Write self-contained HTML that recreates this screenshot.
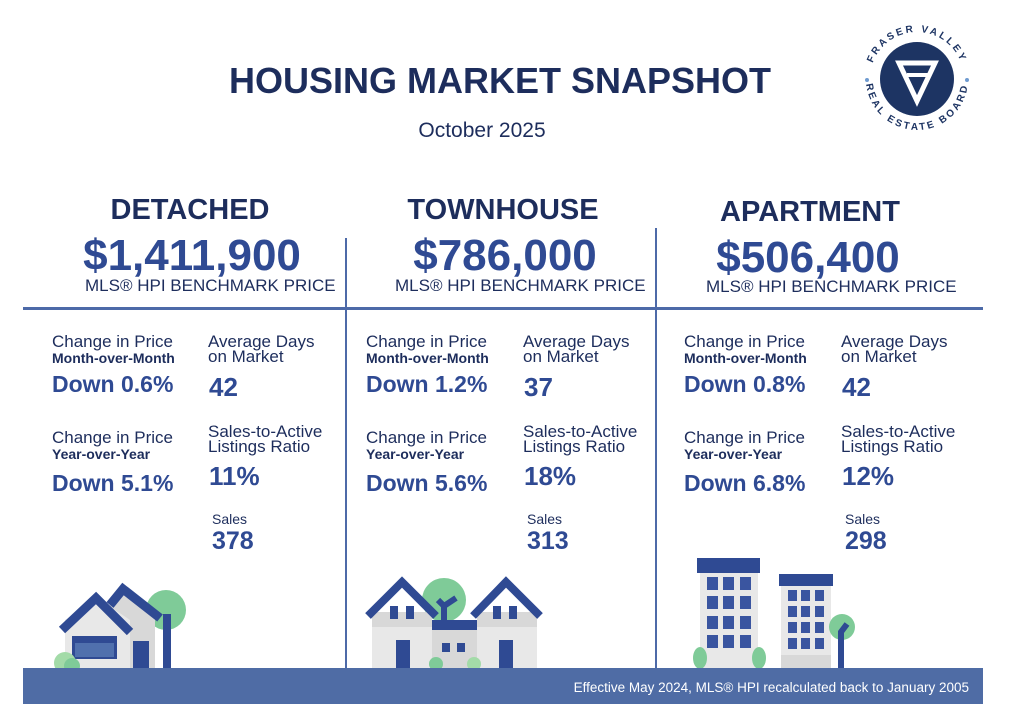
<!DOCTYPE html>
<html><head><meta charset="utf-8"><style>
*{margin:0;padding:0;box-sizing:border-box}
body{width:1023px;height:723px;background:#fff;position:relative;overflow:hidden;font-family:"Liberation Sans",Arial,sans-serif;color:#2f4a93}
.a{position:absolute;white-space:nowrap;line-height:1}
.c{transform:translateX(-50%)}
.t{font-weight:bold;color:#1d2d5c}
.pr{font-weight:bold;font-size:44px;color:#2f4a93}
.mls{font-size:17px;color:#1d2d5c}
.l{font-size:17px;color:#1d2d5c}
.s{font-size:14px;font-weight:bold;color:#1d2d5c}
.d{font-size:23px;font-weight:bold}
.n{font-size:26px;font-weight:bold}
.ln{position:absolute;background:#4d6aa8}
</style></head><body>
<div class="a c t" style="left:500px;top:63px;font-size:36px">HOUSING MARKET SNAPSHOT</div>
<div class="a c" style="left:482px;top:120px;font-size:21px;color:#1d2d5c">October 2025</div>

<div class="a c t" style="left:190px;top:196px;font-size:29px">DETACHED</div>
<div class="a c t" style="left:503px;top:196px;font-size:29px">TOWNHOUSE</div>
<div class="a c t" style="left:810px;top:198px;font-size:29px">APARTMENT</div>

<div class="a c pr" style="left:192px;top:234px">$1,411,900</div>
<div class="a c pr" style="left:505px;top:234px">$786,000</div>
<div class="a c pr" style="left:808px;top:236px">$506,400</div>
<div class="a mls" style="left:85px;top:277px">MLS® HPI BENCHMARK PRICE</div>
<div class="a mls" style="left:395px;top:277px">MLS® HPI BENCHMARK PRICE</div>
<div class="a mls" style="left:706px;top:278px">MLS® HPI BENCHMARK PRICE</div>

<div class="ln" style="left:23px;top:307px;width:960px;height:3px"></div>
<div class="ln" style="left:345px;top:238px;width:2px;height:430px"></div>
<div class="ln" style="left:655px;top:228px;width:2px;height:440px"></div>

<!-- column 1 -->
<div class="a l" style="left:52px;top:333px">Change in Price</div>
<div class="a s" style="left:52px;top:351px">Month-over-Month</div>
<div class="a d" style="left:52px;top:373px">Down 0.6%</div>
<div class="a l" style="left:208px;top:333px">Average Days</div>
<div class="a l" style="left:208px;top:348px">on Market</div>
<div class="a n" style="left:209px;top:374px">42</div>
<div class="a l" style="left:52px;top:429px">Change in Price</div>
<div class="a s" style="left:52px;top:447px">Year-over-Year</div>
<div class="a d" style="left:52px;top:472px">Down 5.1%</div>
<div class="a l" style="left:208px;top:423px">Sales-to-Active</div>
<div class="a l" style="left:208px;top:438px">Listings Ratio</div>
<div class="a n" style="left:209px;top:463px">11%</div>
<div class="a l" style="left:212px;top:512px;font-size:14px">Sales</div>
<div class="a n" style="left:212px;top:529px;font-size:25px">378</div>

<!-- column 2 -->
<div class="a l" style="left:366px;top:333px">Change in Price</div>
<div class="a s" style="left:366px;top:351px">Month-over-Month</div>
<div class="a d" style="left:366px;top:373px">Down 1.2%</div>
<div class="a l" style="left:523px;top:333px">Average Days</div>
<div class="a l" style="left:523px;top:348px">on Market</div>
<div class="a n" style="left:524px;top:374px">37</div>
<div class="a l" style="left:366px;top:429px">Change in Price</div>
<div class="a s" style="left:366px;top:447px">Year-over-Year</div>
<div class="a d" style="left:366px;top:472px">Down 5.6%</div>
<div class="a l" style="left:523px;top:423px">Sales-to-Active</div>
<div class="a l" style="left:523px;top:438px">Listings Ratio</div>
<div class="a n" style="left:524px;top:463px">18%</div>
<div class="a l" style="left:527px;top:512px;font-size:14px">Sales</div>
<div class="a n" style="left:527px;top:529px;font-size:25px">313</div>

<!-- column 3 -->
<div class="a l" style="left:684px;top:333px">Change in Price</div>
<div class="a s" style="left:684px;top:351px">Month-over-Month</div>
<div class="a d" style="left:684px;top:373px">Down 0.8%</div>
<div class="a l" style="left:841px;top:333px">Average Days</div>
<div class="a l" style="left:841px;top:348px">on Market</div>
<div class="a n" style="left:842px;top:374px">42</div>
<div class="a l" style="left:684px;top:429px">Change in Price</div>
<div class="a s" style="left:684px;top:447px">Year-over-Year</div>
<div class="a d" style="left:684px;top:472px">Down 6.8%</div>
<div class="a l" style="left:841px;top:423px">Sales-to-Active</div>
<div class="a l" style="left:841px;top:438px">Listings Ratio</div>
<div class="a n" style="left:842px;top:463px">12%</div>
<div class="a l" style="left:845px;top:512px;font-size:14px">Sales</div>
<div class="a n" style="left:845px;top:529px;font-size:25px">298</div>

<svg style="position:absolute;left:0;top:0" width="1023" height="723">
 <!-- detached -->
 <circle cx="166" cy="610" r="20" fill="#7fcb98"/>
 <polygon points="110,668 155,668 155,610 120,590 110,600" fill="#d8d8d8"/>
 <polygon points="65,668 130,668 130,620 97,598 65,620" fill="#e8e8e8"/>
 <polyline points="62,630 96,598 130,632" fill="none" stroke="#2f4a93" stroke-width="9"/>
 <polyline points="110,605 123,589 160,618" fill="none" stroke="#2f4a93" stroke-width="9"/>
 <rect x="72" y="636" width="45" height="23" fill="#2f4a93"/>
 <rect x="75" y="643" width="39" height="14" fill="#5070ad"/>
 <rect x="133" y="641" width="16" height="27" fill="#2f4a93"/>
 <rect x="163" y="614" width="8" height="54" fill="#2f4a93"/>
 <circle cx="65" cy="663" r="11" fill="#a3dba8"/>
 <circle cx="72" cy="666" r="8" fill="#7fcb98"/>
 <!-- townhouse -->
 <circle cx="444" cy="600" r="22" fill="#7fcb98"/>
 <rect x="372" y="612" width="60" height="56" fill="#e8e8e8"/>
 <rect x="372" y="612" width="60" height="15" fill="#d8d8d8"/>
 <rect x="477" y="612" width="60" height="56" fill="#e8e8e8"/>
 <rect x="477" y="612" width="60" height="15" fill="#d8d8d8"/>
 <rect x="432" y="628" width="45" height="40" fill="#d8d8d8"/>
 <rect x="432" y="620" width="45" height="10" fill="#2f4a93"/>
 <path d="M444 622 L444 606 L456 598 M444 606 L438 600" stroke="#2f4a93" stroke-width="6" fill="none"/>
 <polyline points="368,616 402,582 436,616" fill="none" stroke="#2f4a93" stroke-width="8"/>
 <polyline points="473,616 506,582 540,616" fill="none" stroke="#2f4a93" stroke-width="8"/>
 <rect x="390" y="606" width="8" height="13" fill="#2f4a93"/><rect x="406" y="606" width="8" height="13" fill="#2f4a93"/>
 <rect x="493" y="606" width="8" height="13" fill="#2f4a93"/><rect x="509" y="606" width="8" height="13" fill="#2f4a93"/>
 <rect x="396" y="640" width="14" height="28" fill="#2f4a93"/><rect x="499" y="640" width="14" height="28" fill="#2f4a93"/>
 <rect x="442" y="643" width="8" height="9" fill="#2f4a93"/><rect x="457" y="643" width="8" height="9" fill="#2f4a93"/>
 <circle cx="436" cy="664" r="7" fill="#7fcb98"/><circle cx="474" cy="664" r="7" fill="#a3dba8"/>
 <!-- apartment -->
 <rect x="700" y="572" width="58" height="96" fill="#e8e8e8"/>
 <rect x="697" y="558" width="63" height="15" fill="#2f4a93"/>
 <g fill="#3a55a0">
  <rect x="707" y="577" width="11" height="13"/><rect x="723" y="577" width="11" height="13"/><rect x="740" y="577" width="11" height="13"/>
  <rect x="707" y="596" width="11" height="13"/><rect x="723" y="596" width="11" height="13"/><rect x="740" y="596" width="11" height="13"/>
  <rect x="707" y="616" width="11" height="13"/><rect x="723" y="616" width="11" height="13"/><rect x="740" y="616" width="11" height="13"/>
  <rect x="707" y="635" width="11" height="13"/><rect x="723" y="635" width="11" height="13"/><rect x="740" y="635" width="11" height="13"/>
 </g>
 <rect x="781" y="585" width="50" height="83" fill="#e8e8e8"/>
 <rect x="781" y="655" width="50" height="13" fill="#d8d8d8"/>
 <rect x="779" y="574" width="54" height="12" fill="#2f4a93"/>
 <g fill="#3a55a0">
  <rect x="788" y="590" width="9" height="11"/><rect x="801" y="590" width="9" height="11"/><rect x="815" y="590" width="9" height="11"/>
  <rect x="788" y="606" width="9" height="11"/><rect x="801" y="606" width="9" height="11"/><rect x="815" y="606" width="9" height="11"/>
  <rect x="788" y="622" width="9" height="11"/><rect x="801" y="622" width="9" height="11"/><rect x="815" y="622" width="9" height="11"/>
  <rect x="788" y="638" width="9" height="11"/><rect x="801" y="638" width="9" height="11"/><rect x="815" y="638" width="9" height="11"/>
 </g>
 <circle cx="842" cy="627" r="13" fill="#7fcb98"/>
 <path d="M841 668 L841 632 L847 624" stroke="#2f4a93" stroke-width="6" fill="none"/>
 <ellipse cx="700" cy="658" rx="7" ry="11" fill="#7fcb98"/>
 <ellipse cx="759" cy="658" rx="7" ry="11" fill="#7fcb98"/>
 <!-- logo -->
 <circle cx="917" cy="79" r="37" fill="#1d3463"/>
 <path d="M899 63 L935 63 L917 101 Z" fill="none" stroke="#fff" stroke-width="5"/>
 <path d="M907 75 L928 75" stroke="#fff" stroke-width="4"/>
 <defs>
  <path id="arcT" d="M870 79 A47 47 0 0 1 964 79"/>
  <path id="arcB" d="M866 79 A51 51 0 0 0 968 79"/>
 </defs>
 <text font-family="Liberation Sans" font-weight="bold" font-size="10" fill="#1d3463" letter-spacing="2.5" text-anchor="middle"><textPath href="#arcT" startOffset="50%">FRASER VALLEY</textPath></text>
 <text font-family="Liberation Sans" font-weight="bold" font-size="10" fill="#1d3463" letter-spacing="2.5" text-anchor="middle"><textPath href="#arcB" startOffset="50%">REAL ESTATE BOARD</textPath></text>
 <circle cx="867" cy="80" r="2" fill="#6f9bd0"/><circle cx="967" cy="80" r="2" fill="#6f9bd0"/>
</svg>

<div style="position:absolute;left:23px;top:668px;width:960px;height:36px;background:#4f6ca5"></div>
<div class="a" style="right:54px;top:681px;font-size:13.5px;color:#fff">Effective May 2024, MLS® HPI recalculated back to January 2005</div>
</body></html>
